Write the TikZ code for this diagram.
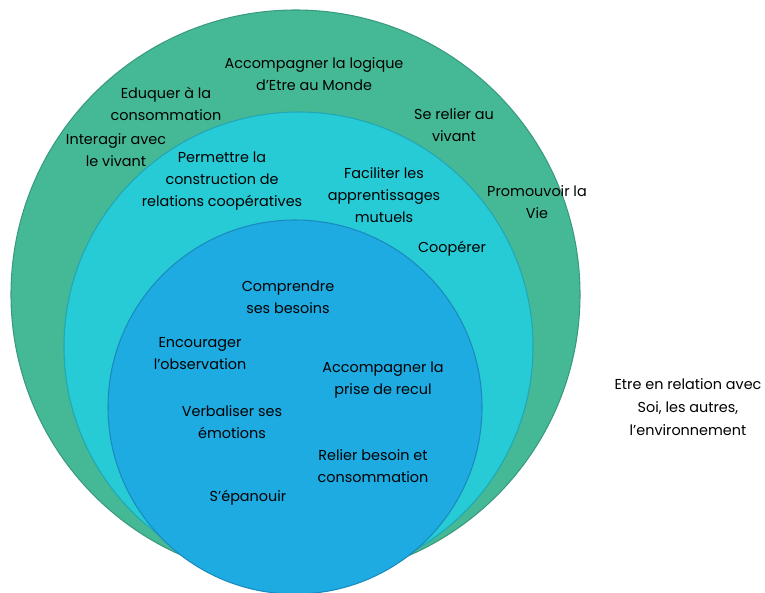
\documentclass[tikz,border=0pt]{standalone}
\usepackage{fontspec}
\setmainfont{Poppins}
\definecolor{cgreen}{HTML}{45B996}
\definecolor{ccyan}{HTML}{27CBD6}
\definecolor{cblue}{HTML}{1DABE2}
\definecolor{egreen}{HTML}{3A9A80}
\definecolor{ecyan}{HTML}{22A7B5}
\definecolor{eblue}{HTML}{1A8BBE}
\begin{document}
\begin{tikzpicture}[x=0.75pt,y=-0.75pt,
  lbl/.style={align=center, inner sep=0pt, font=\fontsize{10.8}{16.5}\selectfont, text=black},
  ring/.style={line width=0.8pt}]
\useasboundingbox (0,0) rectangle (765,593);
\begin{scope}
\clip (0,0) rectangle (765,593);
\draw[ring, fill=cgreen, draw=egreen] (295.5,294.5) circle[radius=284.5];
\draw[ring, fill=ccyan, draw=ecyan] (298.5,346.5) circle[radius=234.5];
\draw[ring, fill=cblue, draw=eblue] (295,407) circle[radius=187];
\end{scope}
% outer ring labels
\node[lbl] (acc) at (314,74) {Accompagner la logique\\d’Etre au Monde};
\node[lbl] (edu) at (166,103.5) {Eduquer à la\\consommation};
\node[lbl] (inter) at (116,150) {Interagir avec\\le vivant};
\node[lbl] (serel) at (454,125) {Se relier au\\vivant};
\node[lbl] (prom) at (537,202.5) {Promouvoir la\\Vie};
% middle ring labels
\node[lbl] (perm) at (222,181.5) {Permettre la\\construction de\\relations coopératives};
\node[lbl] (fac) at (384,195.5) {Faciliter les\\apprentissages\\mutuels};
\node[lbl] (coop) at (452,249) {Coopérer};
% inner circle labels
\node[lbl] (comp) at (288,297) {Comprendre\\ses besoins};
\node[lbl] (enc) at (200,353.5) {Encourager\\l’observation};
\node[lbl] (accp) at (383,380) {Accompagner la\\prise de recul};
\node[lbl] (verb) at (232,422.5) {Verbaliser ses\\émotions};
\node[lbl] (relb) at (373,466) {Relier besoin et\\consommation};
\node[lbl] (epan) at (248,498) {S’épanouir};
% outside label
\node[lbl, font=\fontsize{10.8}{17.2}\selectfont] (etre) at (688,407) {Etre en relation avec\\Soi, les autres,\\l’environnement};
\end{tikzpicture}
\end{document}
